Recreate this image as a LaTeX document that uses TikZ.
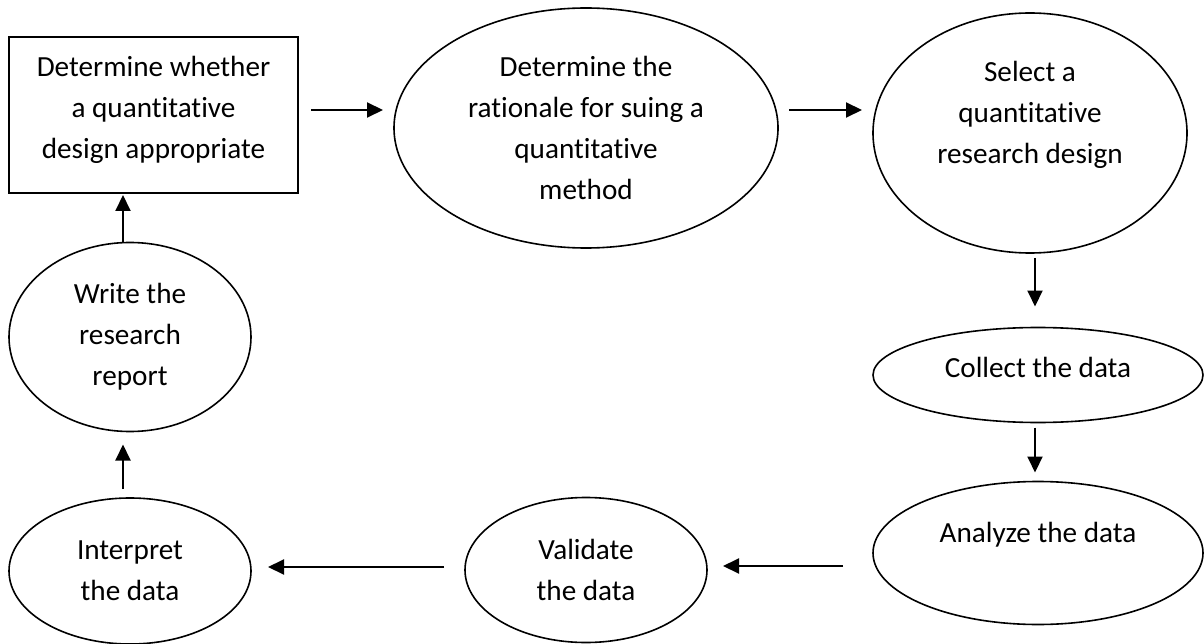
\documentclass[tikz,border=0pt]{standalone}
\usepackage{fontspec}
\setmainfont{Carlito}[Ligatures=NoCommon]
\usetikzlibrary{arrows.meta}
\usetikzlibrary{shapes.geometric}

\begin{document}
\begin{tikzpicture}[x=1pt,y=-1pt,
    every node/.style={font=\fontsize{29.2}{41}\selectfont,align=center},
    step box/.style={draw,line width=2pt,rectangle,inner sep=0pt,outer sep=0pt},
    oval/.style={draw,line width=1.6pt,ellipse,inner sep=0pt,outer sep=0pt},
    flow/.style={line width=2pt,-{Triangle[length=16pt,width=15pt]}}]

    % page frame with a white background
    \useasboundingbox (0,0) rectangle (1204,644);
    \fill[white] (0,0) rectangle (1204,644);

    % first step in a box
    \node[step box,text depth=16pt,minimum width=289pt,minimum height=156pt] (whether) at (153.5,115)
        {Determine whether\\a quantitative\\design appropriate};

    % the other steps in ovals
    \node[oval,minimum width=384pt,minimum height=240pt] (rationale) at (586,128)
        {Determine the\\rationale for suing a\\quantitative\\method};
    \node[oval,inner xsep=-25pt,minimum width=314pt,minimum height=240pt] (select) at (1030,133)
        {Select a\\quantitative\\research design\\ };
    \node[oval,text depth=16pt,minimum width=330pt,minimum height=95pt] (collect) at (1038,375)
        {Collect the data};
    \node[oval,minimum width=330pt,minimum height=143pt] (analyze) at (1038,553)
        {Analyze the data\\ };
    \node[oval,minimum width=242pt,minimum height=145pt] (validate) at (586,570)
        {Validate\\the data};
    \node[oval,minimum width=242pt,minimum height=146pt] (interpret) at (130,571)
        {Interpret\\the data};
    \node[oval,minimum width=242pt,minimum height=189pt] (write) at (130,337)
        {Write the\\research\\report};

    % arrows round the cycle
    \draw[flow,shorten <=13pt,shorten >=11pt] ([yshift=5pt]whether.east) -- ([yshift=5pt]whether.east -| rationale.west);
    \draw[flow,shorten <=11pt,shorten >=11pt] ([yshift=18pt]rationale.east) -- ([yshift=18pt]rationale.east -| select.west);
    \draw[flow,shorten <=5pt,shorten >=21pt] ([xshift=5pt]select.south) -- ([xshift=5pt]select.south |- collect.north);
    \draw[flow,shorten <=5pt,shorten >=9pt] ([xshift=-3pt]collect.south) -- ([xshift=-3pt]collect.south |- analyze.north);
    \draw[flow,shorten <=30pt,shorten >=16pt] ([yshift=-13pt]analyze.west) -- ([yshift=-13pt]analyze.west -| validate.east);
    \draw[flow,shorten <=21pt,shorten >=17pt] ([yshift=3pt]validate.west) -- ([yshift=3pt]validate.west -| interpret.east);
    \draw[flow,shorten <=9pt,shorten >=13pt] ([xshift=-7pt]interpret.north) -- ([xshift=-7pt]interpret.north |- write.south);
    \draw[flow,shorten <=0pt,shorten >=2pt] ([xshift=-7pt]write.north) -- ([xshift=-7pt]write.north |- whether.south);

\end{tikzpicture}
\end{document}
